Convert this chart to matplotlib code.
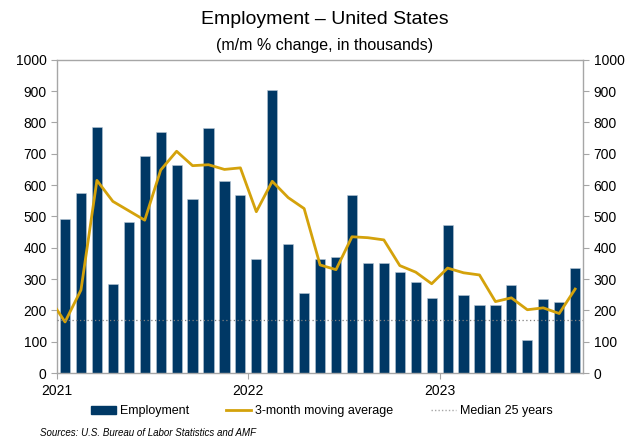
import numpy as np
import matplotlib
matplotlib.use("Agg")
from matplotlib import pyplot as plt
from matplotlib.lines import Line2D
from matplotlib.patches import Patch

plt.rcParams['font.family'] = ['Liberation Sans', 'DejaVu Sans']

# monthly job gains, Jan 2021 - Sep 2023 (thousands)
emploi = [493, 575, 785, 285, 482, 693, 770, 663, 557, 782, 614, 569,
          363, 904, 413, 254, 364, 370, 568, 352, 350, 324, 290, 239,
          472, 248, 217, 217, 281, 105, 236, 227, 336]
# 3-month moving average, Dec 2020 - Sep 2023
moyenne = [240, 163, 265, 615, 548, 518, 488, 648, 708, 662, 665, 650, 655,
           515, 612, 560, 525, 345, 330, 435, 432, 425, 343, 322, 285,
           335, 320, 313, 228, 240, 202, 208, 190, 268]
mediane = 170
annees = ['2021', '2022', '2023']

bleu = '#003865'
jaune = '#D4A20B'
gris = '#A6A6A6'

fig = plt.figure(figsize=(6.27, 4.43), dpi=100)
ax = fig.add_axes([0.091, 0.158, 0.839, 0.707])

x = np.arange(len(emploi))
ax.bar(x, emploi, width=0.64, color=bleu, edgecolor='#B8C7D6', linewidth=0.4, zorder=2)
ax.plot(np.arange(-1, len(emploi)), moyenne, color=jaune, lw=2, zorder=3)
ax.axhline(mediane, color='#7F7F7F', lw=0.9, ls=(0, (1, 2)), zorder=4)

ax.set_xlim(-0.5, len(emploi) - 0.5)
ax.set_ylim(0, 1000)
ax.set_yticks(range(0, 1001, 100))
ax.set_xticks([-0.5, 11.5, 23.5])
ax.set_xticklabels(annees)
ax.tick_params(axis='x', length=4, color=gris, labelsize=10, pad=4)
ax.tick_params(axis='y', length=4, color=gris, labelsize=10, right=True, labelright=True)
for s in ax.spines.values():
    s.set_color(gris)
    s.set_linewidth(1)

fig.text(0.518, 0.957, 'Employment \u2013 United States', ha='center', va='center', fontsize=14)
fig.text(0.518, 0.897, '(m/m % change, in thousands)', ha='center', va='center', fontsize=11.5)

handles = [Patch(facecolor=bleu, edgecolor=bleu),
           Line2D([0], [0], color=jaune, lw=2),
           Line2D([0], [0], color=gris, lw=1, ls=(0, (1, 1.5)))]
labels = ['Employment', '3-month moving average', 'Median 25 years']
fig.legend(handles, labels, loc='center', bbox_to_anchor=(0.513, 0.072), ncol=3,
           frameon=False, fontsize=9, handlelength=2.0, handletextpad=0.3,
           columnspacing=3.0, handleheight=0.6)

fig.text(0.064, 0.012, 'Sources: U.S. Bureau of Labor Statistics and AMF', fontsize=7,
         style='italic', ha='left', va='bottom')

plt.savefig('out.png', dpi=100)
